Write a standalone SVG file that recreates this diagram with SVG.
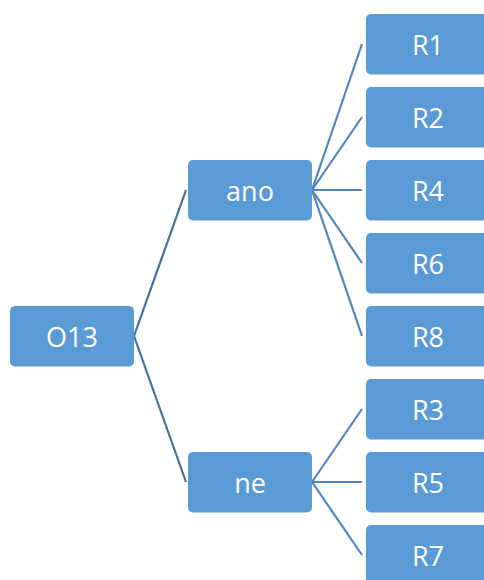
<svg xmlns="http://www.w3.org/2000/svg" width="484" height="580" viewBox="0 0 484 580">
<style>
.box{fill:#5B9BD5;}
.lbl{fill:#ffffff;font-family:"Open Sans","Liberation Sans",sans-serif;font-size:27px;text-anchor:middle;dominant-baseline:central;}
.c1{stroke:#41719C;stroke-width:2.2;fill:none;}
.c2{stroke:#5185C0;stroke-width:2.2;fill:none;}
</style>
<rect width="484" height="580" fill="#ffffff"/>
<g id="connectors">
<line class="c1" x1="134" y1="336" x2="186" y2="190"/>
<line class="c1" x1="134" y1="336" x2="186" y2="482"/>
<line class="c2" x1="312" y1="190" x2="362" y2="44"/>
<line class="c2" x1="312" y1="190" x2="362" y2="117"/>
<line class="c2" x1="312" y1="190" x2="362" y2="190"/>
<line class="c2" x1="312" y1="190" x2="362" y2="263"/>
<line class="c2" x1="312" y1="190" x2="362" y2="336"/>
<line class="c2" x1="312" y1="482" x2="362" y2="409"/>
<line class="c2" x1="312" y1="482" x2="362" y2="482"/>
<line class="c2" x1="312" y1="482" x2="362" y2="555"/>
</g>
<g id="O13"><rect class="box" x="10" y="306" width="124" height="60.5" rx="5"/><text class="lbl" x="72" y="336">O13</text></g>
<g id="ano"><rect class="box" x="188" y="160" width="124" height="60.5" rx="5"/><text class="lbl" x="250" y="190">ano</text></g>
<g id="ne"><rect class="box" x="188" y="452" width="124" height="60.5" rx="5"/><text class="lbl" x="250" y="482">ne</text></g>
<g id="R1"><rect class="box" x="366" y="14" width="124" height="60.5" rx="5"/><text class="lbl" x="428" y="44">R1</text></g>
<g id="R2"><rect class="box" x="366" y="87" width="124" height="60.5" rx="5"/><text class="lbl" x="428" y="117">R2</text></g>
<g id="R4"><rect class="box" x="366" y="160" width="124" height="60.5" rx="5"/><text class="lbl" x="428" y="190">R4</text></g>
<g id="R6"><rect class="box" x="366" y="233" width="124" height="60.5" rx="5"/><text class="lbl" x="428" y="263">R6</text></g>
<g id="R8"><rect class="box" x="366" y="306" width="124" height="60.5" rx="5"/><text class="lbl" x="428" y="336">R8</text></g>
<g id="R3"><rect class="box" x="366" y="379" width="124" height="60.5" rx="5"/><text class="lbl" x="428" y="409">R3</text></g>
<g id="R5"><rect class="box" x="366" y="452" width="124" height="60.5" rx="5"/><text class="lbl" x="428" y="482">R5</text></g>
<g id="R7"><rect class="box" x="366" y="525" width="124" height="60.5" rx="5"/><text class="lbl" x="428" y="555">R7</text></g>
</svg>
